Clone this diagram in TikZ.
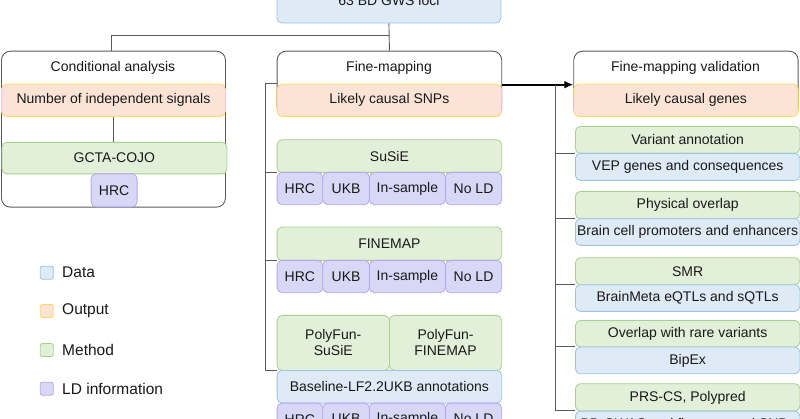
\documentclass[tikz,border=0pt]{standalone}
\usepackage{fontspec}
\setmainfont{Liberation Sans}
\usetikzlibrary{positioning,arrows.meta}

\definecolor{dataFill}{HTML}{DEEAF6}
\definecolor{dataLine}{HTML}{9DC3E6}
\definecolor{outFill}{HTML}{FBE4D5}
\definecolor{outLine}{HTML}{FFD966}
\definecolor{methFill}{HTML}{E2EFD9}
\definecolor{methLine}{HTML}{A9D18E}
\definecolor{ldFill}{HTML}{D9D7F6}
\definecolor{ldLine}{HTML}{B4A8EE}
\definecolor{frameLine}{HTML}{5A5A5A}

\begin{document}
\begin{tikzpicture}[x=1pt, y=-1pt, font=\fontsize{14}{16}\selectfont, text=black!90,
    box/.style={rounded corners=5pt, line width=0.8pt, inner xsep=1pt, inner ysep=0pt, anchor=north west},
    frame/.style={draw=frameLine, fill=white, rounded corners=9pt, line width=0.9pt, inner sep=0pt, anchor=north west},
    datab/.style={box, draw=dataLine, fill=dataFill},
    outb/.style={box, draw=outLine, fill=outFill},
    methb/.style={box, draw=methLine, fill=methFill},
    ldb/.style={box, draw=ldLine, fill=ldFill},
    link/.style={draw=frameLine, line width=0.9pt},
    legsq/.style={rounded corners=2pt, line width=0.8pt, minimum size=13pt, inner sep=0pt}]
  \useasboundingbox (0,0) rectangle (800,419);

  % input
  \node[datab, minimum width=224pt, minimum height=44.7pt] (gws) at (276.5,-22) {63 BD GWS loci};

  % conditional analysis
  \node[frame, minimum width=224pt, minimum height=156pt] (condf) at (1,50.7) {};
  \node (condt) at (113,68) {Conditional analysis};
  \node[outb, minimum width=224pt, minimum height=32.3pt] (condout) at (1,83.7) {Number of independent signals};
  \node[methb, minimum width=225pt, minimum height=31.5pt] (gcta) at (1.5,142) {GCTA-COJO};
  \node[ldb, minimum width=46pt, minimum height=33pt] (condhrc) at (90.7,173.5) {HRC};

  % fine-mapping
  \node[frame, minimum width=224.6pt, minimum height=65.3pt] (fmf) at (276.7,50.7) {};
  \node (fmt) at (389,68) {Fine-mapping};
  \node[outb, minimum width=224.6pt, minimum height=32.3pt] (fmout) at (276.7,83.7) {Likely causal SNPs};

  \node[methb, minimum width=224.6pt, minimum height=32.7pt] (susie) at (276.7,139.3) {SuSiE};
  \node[methb, minimum width=224.6pt, minimum height=33.3pt] (finemap) at (276.7,226.7) {FINEMAP};
  \node[methb, align=center, minimum width=112.3pt, minimum height=55pt] (pfsusie) at (276.7,315) {PolyFun-\\SuSiE};
  \node[methb, align=center, minimum width=112.3pt, minimum height=55pt] (pffinemap) at (389,315) {PolyFun-\\FINEMAP};
  \node[datab, minimum width=224.6pt, minimum height=32.7pt] (baseline) at (276.7,370) {Baseline-LF2.2UKB annotations};

  \foreach \row/\yy in {s/172, f/260, p/402.7} {
    \node[ldb, minimum width=45.6pt, minimum height=32.3pt] (\row hrc) at (276.7,\yy) {HRC};
    \node[ldb, minimum width=46.7pt, minimum height=32.3pt] (\row ukb) at (322.3,\yy) {UKB};
    \node[ldb, minimum width=76pt, minimum height=32.3pt] (\row ins) at (369,\yy) {In-sample};
    \node[ldb, minimum width=56.3pt, minimum height=32.3pt] (\row nold) at (445,\yy) {No LD};
  }

  % fine-mapping validation
  \node[frame, minimum width=224.4pt, minimum height=65.3pt] (valf) at (573.3,50.7) {};
  \node (valt) at (685.5,68) {Fine-mapping validation};
  \node[outb, minimum width=224.4pt, minimum height=32.3pt] (valout) at (573.3,83.7) {Likely causal genes};

  \node[methb, minimum width=224.5pt, minimum height=27pt] (vam) at (575,126) {Variant annotation};
  \node[datab, minimum width=224.5pt, minimum height=27pt] (vad) at (575,153) {VEP genes and consequences};
  \node[methb, minimum width=224.5pt, minimum height=27.3pt] (pom) at (575,191) {Physical overlap};
  \node[datab, minimum width=224.5pt, minimum height=26.7pt] (pod) at (575,218.3) {Brain cell promoters and enhancers};
  \node[methb, minimum width=224.5pt, minimum height=27pt] (smrm) at (575,257.3) {SMR};
  \node[datab, minimum width=224.5pt, minimum height=26.7pt] (smrd) at (575,284.3) {BrainMeta eQTLs and sQTLs};
  \node[methb, minimum width=224.5pt, minimum height=26.7pt] (rarem) at (575,320) {Overlap with rare variants};
  \node[datab, minimum width=224.5pt, minimum height=26.7pt] (rared) at (575,346.7) {BipEx};
  \node[methb, minimum width=224.5pt, minimum height=27.4pt] (prsm) at (575,383.3) {PRS-CS, Polypred};
  \node[datab, minimum width=224.5pt, minimum height=27pt] (prsd) at (575,410.7) {BD GWAS and fine-mapped SNPs};

  % connectors
  \coordinate (split) at (389,35.5);
  \draw[link] (gws.south) -- (fmf.north);
  \draw[link] (split) -| (111,50.7) coordinate (condtop);
  \draw[link] (condout.south) -- (condout.south |- gcta.north);

  \coordinate (brk) at (265,0);
  \draw[link] (fmout.north west) -- (fmout.north west -| brk) -- (pfsusie.south west -| brk) -- (pfsusie.south west);
  \draw[link] (susie.south west -| brk) -- (susie.south west);
  \draw[link] (finemap.south west -| brk) -- (finemap.south west);

  \draw[-{Latex[length=9pt,width=8pt]}, line width=2.2pt] ([yshift=-1pt]fmout.north east) -- ([yshift=-1pt]valout.north west);

  \coordinate (rbrk) at (555.7,0);
  \draw[link] ([yshift=-1pt]rbrk |- valout.north west) -- (rbrk |- prsd.north west) -- (prsd.north west);
  \draw[link] (rbrk |- vad.north west) -- (vad.north west);
  \draw[link] (rbrk |- pod.north west) -- (pod.north west);
  \draw[link] (rbrk |- smrd.north west) -- (smrd.north west);
  \draw[link] (rbrk |- rared.north west) -- (rared.north west);

  % legend
  \begin{scope}[font=\fontsize{15.5}{18}\selectfont]
    \node[legsq, draw=dataLine, fill=dataFill] (legdata) at (46.8,272.7) {};
    \node[right=5pt of legdata] {Data};
    \node[legsq, draw=outLine, fill=outFill] (legout) at (46.8,311) {};
    \node[right=5pt of legout] {Output};
    \node[legsq, draw=methLine, fill=methFill] (legmeth) at (46.8,350) {};
    \node[right=5pt of legmeth] {Method};
    \node[legsq, draw=ldLine, fill=ldFill] (legld) at (46.8,388.7) {};
    \node[right=5pt of legld] {LD information};
  \end{scope}
\end{tikzpicture}
\end{document}
